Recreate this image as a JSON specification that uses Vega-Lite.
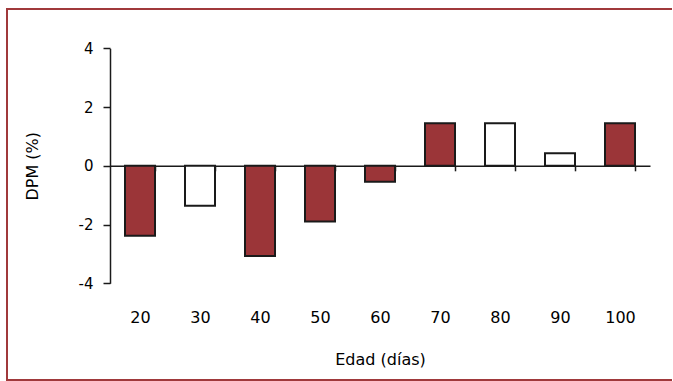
{
  "$schema": "https://vega.github.io/schema/vega-lite/v6.json",
  "autosize": {"type": "none"},
  "width": 665,
  "height": 371,
  "padding": {"left": 7, "top": 9, "right": 0, "bottom": 1},
  "background": "#ffffff",
  "config": {
    "view": {"stroke": "#A0393B", "strokeWidth": 2, "strokeDash": [665, 371, 2000]},
    "font": "DejaVu Sans"
  },
  "data": {
    "values": [
      {"edad": "20", "dpm": -2.38, "grupo": "A"},
      {"edad": "30", "dpm": -1.36, "grupo": "B"},
      {"edad": "40", "dpm": -3.07, "grupo": "A"},
      {"edad": "50", "dpm": -1.9, "grupo": "A"},
      {"edad": "60", "dpm": -0.54, "grupo": "A"},
      {"edad": "70", "dpm": 1.45, "grupo": "A"},
      {"edad": "80", "dpm": 1.45, "grupo": "B"},
      {"edad": "90", "dpm": 0.43, "grupo": "B"},
      {"edad": "100", "dpm": 1.45, "grupo": "A"}
    ]
  },
  "mark": {"type": "bar", "stroke": "#1a1a1a", "strokeWidth": 2},
  "encoding": {
    "x": {
      "field": "edad",
      "type": "ordinal",
      "sort": null,
      "scale": {"range": [103, 643], "paddingInner": 0.5, "paddingOuter": 0.25},
      "axis": {
        "title": "Edad (días)",
        "offset": -214.2,
        "labelAngle": 0,
        "tickBand": "extent",
        "tickSize": 5,
        "tickColor": "#1a1a1a",
        "tickWidth": 1.5,
        "domainColor": "#1a1a1a",
        "domainWidth": 1.5,
        "labelPadding": 138.5,
        "labelFontSize": 16,
        "labelColor": "#000000",
        "titleFontSize": 16,
        "titleFontWeight": "normal",
        "titleColor": "#000000",
        "titlePadding": 26
      }
    },
    "y": {
      "field": "dpm",
      "type": "quantitative",
      "scale": {"domain": [-4, 4], "range": [274.3, 39.3], "nice": false},
      "axis": {
        "title": "DPM (%)",
        "offset": -103,
        "values": [-4, -2, 0, 2, 4],
        "labelExpr": "toString(datum.value)",
        "grid": false,
        "tickSize": 7,
        "tickColor": "#1a1a1a",
        "tickWidth": 1.5,
        "domainColor": "#1a1a1a",
        "domainWidth": 1.5,
        "labelPadding": 10,
        "labelFontSize": 15,
        "labelColor": "#000000",
        "titleFontSize": 16,
        "titleFontWeight": "normal",
        "titleColor": "#000000",
        "titlePadding": 38
      }
    },
    "fill": {
      "field": "grupo",
      "type": "nominal",
      "scale": {"domain": ["A", "B"], "range": ["#9B3538", "#ffffff"]},
      "legend": null
    }
  }
}
